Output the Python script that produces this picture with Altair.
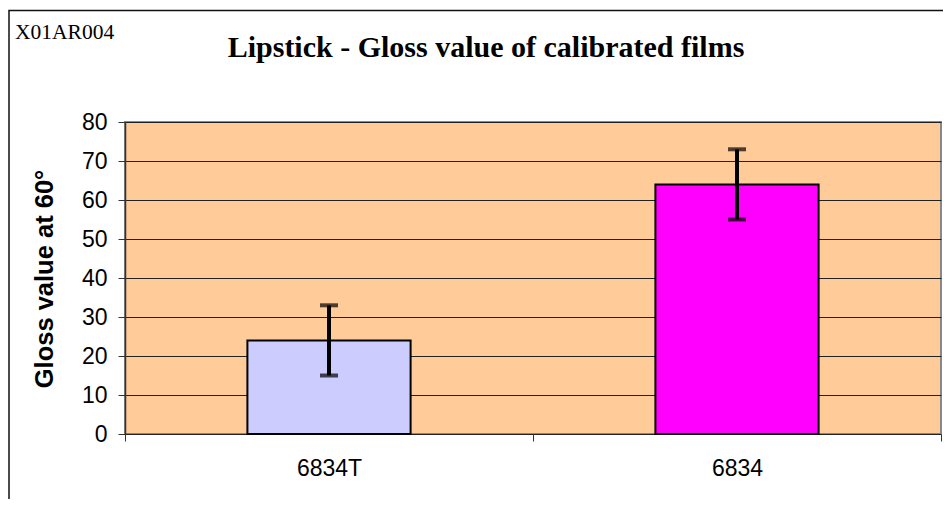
import altair as alt
import pandas as pd

# ---- data ----
categories = ["6834T", "6834"]
gloss = [24, 64]
error = [9, 9]
bar_colors = ["#CCCCFF", "#FF00FF"]
y_ticks = [0, 10, 20, 30, 40, 50, 60, 70, 80]
chart_title = ["Lipstick - Gloss value of calibrated films"]
corner_code = ["X01AR004"]
y_title = ["Gloss value at 60°"]

df = pd.DataFrame({
    "cat": categories,
    "gloss": gloss,
    "lo": [g - e for g, e in zip(gloss, error)],
    "hi": [g + e for g, e in zip(gloss, error)],
    "color": bar_colors,
})

W, H = 816, 312
SANS = "Liberation Sans"
SERIF = "Liberation Serif"

x_axis = alt.Axis(
    title=None, labelAngle=0, labelFont=SANS, labelFontSize=23,
    labelColor="black", labelPadding=16, tickBand="extent", tickSize=7,
    tickColor="#333333", domain=False, grid=False,
)
y_axis = alt.Axis(
    title=None, values=y_ticks, tickCount=9, labelOverlap=False,
    labelFont=SANS, labelFontSize=23, labelColor="black", labelPadding=11,
    tickSize=7, tickColor="#333333", domainColor="#333333", domainWidth=1.5,
    grid=True, gridColor="#222222", gridWidth=1,
)
x_scale = alt.Scale(paddingInner=0, paddingOuter=0)
y_scale = alt.Scale(domain=[0, 80], nice=False, zero=True)


def X():
    return alt.X("cat:N", sort=categories, scale=x_scale, axis=x_axis)


bars = alt.Chart(df).mark_bar(stroke="black", strokeWidth=2,
                              width=alt.RelativeBandSize(0.4)).encode(
    x=X(),
    y=alt.Y("gloss:Q", scale=y_scale, axis=y_axis),
    fill=alt.Fill("color:N", scale=None),
)

err_rule = alt.Chart(df).mark_rule(color="black", strokeWidth=4).encode(
    x=X(),
    y=alt.Y("lo:Q", scale=y_scale, axis=y_axis),
    y2="hi:Q",
)
cap_lo = alt.Chart(df).mark_tick(color="black", thickness=4, size=18,
                                 orient="horizontal", strokeCap="round").encode(
    x=X(), y=alt.Y("lo:Q", scale=y_scale, axis=y_axis))
cap_hi = alt.Chart(df).mark_tick(color="black", thickness=4, size=18,
                                 orient="horizontal", strokeCap="round").encode(
    x=X(), y=alt.Y("hi:Q", scale=y_scale, axis=y_axis))

# outer frame of the chart
frame = alt.Chart(pd.DataFrame({"f": [0]})).mark_rect(
    fill=None, stroke="#111111", strokeWidth=1.5, clip=False).encode(
    x=alt.value(-116), x2=alt.value(W + 20),
    y=alt.value(-111.5), y2=alt.value(H + 100),
)

title_txt = alt.Chart(pd.DataFrame({"t": chart_title})).mark_text(
    font=SERIF, fontSize=30, fontWeight="bold", color="black",
    align="center", baseline="alphabetic").encode(
    text="t:N", x=alt.value(361), y=alt.value(-65))

code_txt = alt.Chart(pd.DataFrame({"t": corner_code})).mark_text(
    font=SERIF, fontSize=21.5, color="black",
    align="left", baseline="alphabetic").encode(
    text="t:N", x=alt.value(-110), y=alt.value(-83))

ytitle_txt = alt.Chart(pd.DataFrame({"t": y_title})).mark_text(
    font=SANS, fontSize=25.5, fontWeight="bold", color="black", angle=270,
    align="center", baseline="middle").encode(
    text="t:N", x=alt.value(-80), y=alt.value(H / 2 + 1))

chart = alt.layer(frame, bars, err_rule, cap_lo, cap_hi,
                  title_txt, code_txt, ytitle_txt).properties(
    width=W, height=H,
    autosize=alt.AutoSizeParams(type="none"),
    padding={"left": 117, "top": 114, "right": 2, "bottom": 65},
    background="white",
).configure_view(
    fill="#FFCC99", stroke="#888888", strokeWidth=2,
)

chart.save("out.html", embed_options={"renderer": "svg", "actions": False})
